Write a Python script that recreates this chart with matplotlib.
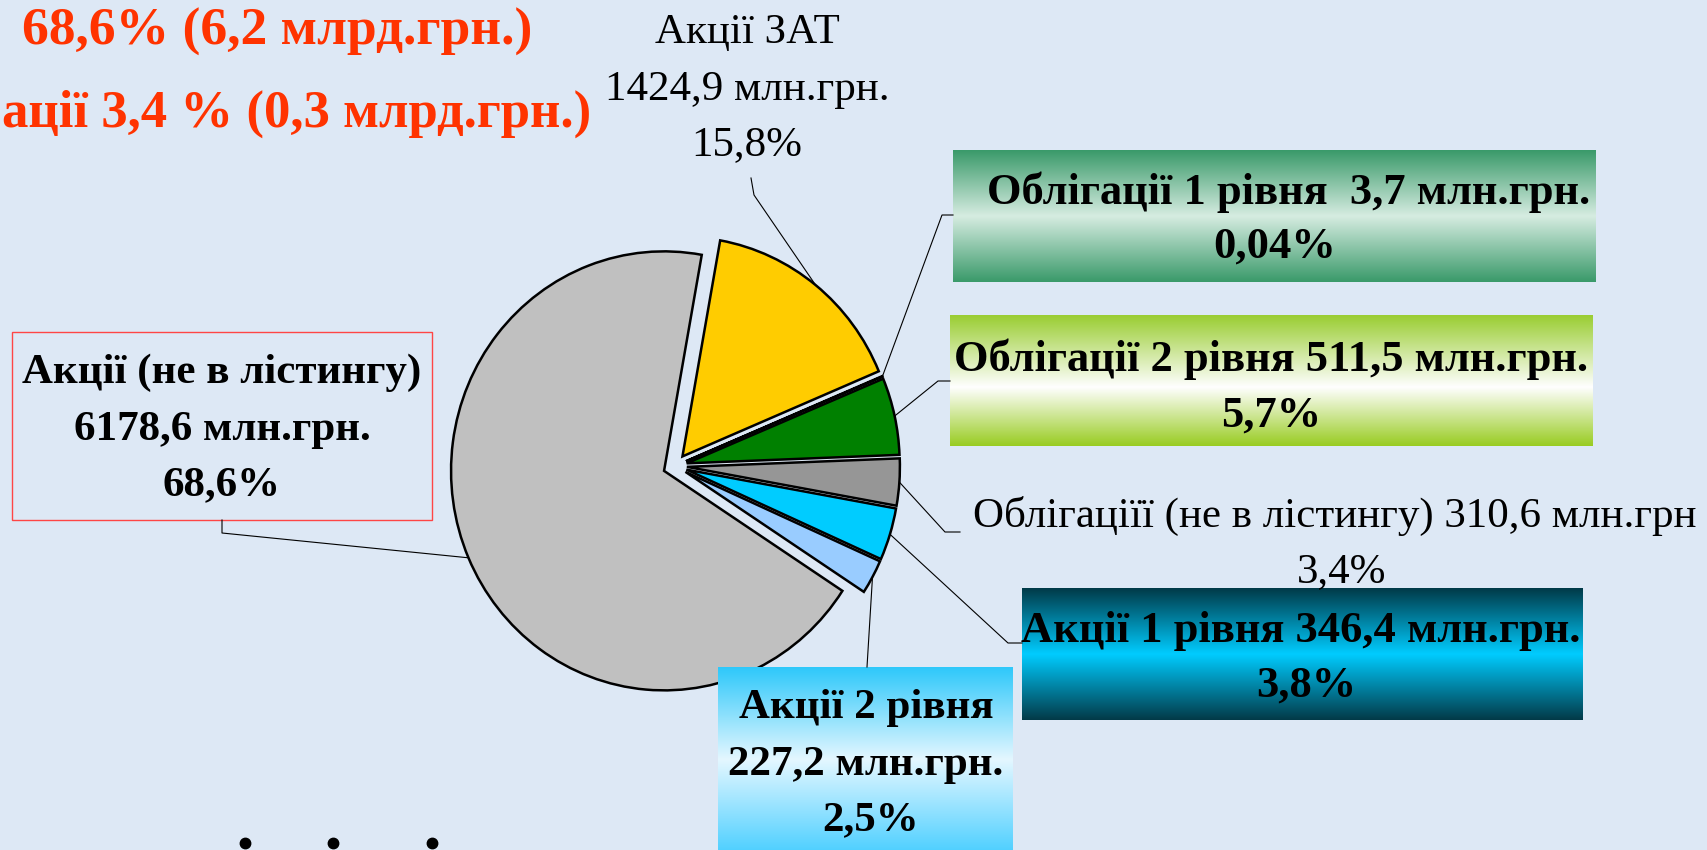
import numpy as np
import matplotlib
matplotlib.use("Agg")
import matplotlib.pyplot as plt
from matplotlib.patches import Rectangle

W, H = 1707, 850

# pie data, clockwise from the top
names = ["Акції ЗАТ", "Облігації 1 рівня", "Облігації 2 рівня",
         "Облігаціїї (не в лістингу)", "Акції 1 рівня", "Акції 2 рівня",
         "Акції (не в лістингу)"]
values = [1424.9, 3.7, 511.5, 310.6, 346.4, 227.2, 6178.6]
shares = ["15,8%", "0,04%", "5,7%", "3,4%", "3,8%", "2,5%", "68,6%"]
colors = ["#ffcc00", "#339966", "#008000", "#969696", "#00ccff", "#99ccff", "#c0c0c0"]

headline = ["68,6% (6,2 млрд.грн.)", "ації 3,4 % (0,3 млрд.грн.)"]

plt.rcParams["font.family"] = ["Liberation Serif", "DejaVu Serif"]


def amount(v):
    return f"{v:.1f}".replace(".", ",") + " млн.грн."


label_lines = [
    [names[0], amount(values[0]), shares[0]],
    [f"{names[1]}  {amount(values[1])}", shares[1]],
    [f"{names[2]} {amount(values[2])}", shares[2]],
    [f"{names[3]} {amount(values[3]).rstrip('.')}", shares[3]],
    [f"{names[4]} {amount(values[4])}", shares[4]],
    [names[5], amount(values[5]), shares[5]],
    [names[6], amount(values[6]), shares[6]],
]

# label layout: (x, baseline) per line, font size, weight
label_pos = [
    [(747, 43), (747, 100), (747, 155)],
    [(1289, 204), (1275, 258)],
    [(1271, 371), (1271, 427)],
    [(973, 527), (1342, 582)],
    [(1301, 642), (1306, 697)],
    [(866, 718), (866, 775), (871, 830)],
    [(222, 383), (222, 440), (222, 495)],
]
label_ha = [None, None, None, ["left", "center"], None, None, None]
label_size = [31, 32, 32, 31, 32, 31, 31]
label_weight = ["normal", "bold", "bold", "normal", "bold", "bold", "bold"]

# gradient boxes: x0, y0, x1, y1, top, middle, bottom, middle position
boxes = {
    1: (953, 150, 1596, 282, "#3a9a6a", "#d6ece1", "#3a9a6a", 0.5),
    2: (950, 316, 1593, 446, "#9acd32", "#ffffff", "#99cc22", 0.55),
    4: (1022, 588, 1583, 720, "#003a48", "#00ccff", "#033a48", 0.5),
    5: (718, 667, 1013, 852, "#2ec8fa", "#e4f7ff", "#4fd0ff", 0.5),
}

# leader lines, from the label towards the slice
leaders = [
    [(751, 178), (754, 195)],
    [(953, 215), (942, 215)],
    [(950, 381), (938, 381)],
    [(960, 532), (945, 532)],
    [(1022, 643), (1008, 643)],
    [(867, 667)],
    [(222, 520), (222, 533)],
]

bullet_x = [245, 333, 432]

fig = plt.figure(figsize=(W / 100, H / 100), dpi=100, facecolor="#dde8f5")

# pie in its own axes (slightly taller than wide, as in the slide)
cx, cy, rx, ry = 675, 466, 213, 219.5
pax = fig.add_axes([(cx - 1.5 * rx) / W, (H - cy - 1.5 * ry) / H, 3 * rx / W, 3 * ry / H])
wedges, _ = pax.pie(values, colors=colors, startangle=79.8, counterclock=False,
                    explode=[0.056] * len(values),
                    wedgeprops=dict(edgecolor="black", linewidth=1.8))
pax.set_xlim(-1.5, 1.5)
pax.set_ylim(-1.5, 1.5)
pax.set_aspect("auto")
pax.axis("off")
pax.set_zorder(1)

ax = fig.add_axes([0, 0, 1, 1])
ax.set_zorder(2)
ax.patch.set_visible(False)


def gradient_box(x0, y0, x1, y1, top, mid, bottom, mpos):
    t = np.linspace(0, 1, 200)
    c = [np.array(matplotlib.colors.to_rgb(k)) for k in (top, mid, bottom)]
    arr = np.empty((len(t), 1, 3))
    for i, v in enumerate(t):
        if v < mpos:
            f = v / mpos
            arr[i, 0] = c[0] * (1 - f) + c[1] * f
        else:
            f = (v - mpos) / (1 - mpos)
            arr[i, 0] = c[1] * (1 - f) + c[2] * f
    ax.imshow(arr, extent=(x0, x1, y1, y0), aspect="auto", origin="upper",
              interpolation="bilinear", zorder=1)


for i, b in boxes.items():
    gradient_box(*b)

ax.add_patch(Rectangle((12, 332), 420, 188, fill=False, edgecolor="#ff4545", lw=1, zorder=1))

ax.set_xlim(0, W)
ax.set_ylim(H, 0)
ax.axis("off")


def arc_point(w):
    t = np.deg2rad((w.theta1 + w.theta2) / 2)
    x0, y0 = w.center
    p = pax.transData.transform((x0 + w.r * np.cos(t), y0 + w.r * np.sin(t)))
    return ax.transData.inverted().transform(p)


for w, pts in zip(wedges, leaders):
    path = list(pts) + [tuple(arc_point(w))]
    xs, ys = zip(*path)
    ax.plot(xs, ys, color="black", lw=0.8, zorder=2)

for i, lines in enumerate(label_lines):
    for j, (txt, (x, y)) in enumerate(zip(lines, label_pos[i])):
        ha = label_ha[i][j] if label_ha[i] else "center"
        ax.text(x, y, txt, ha=ha, va="baseline", fontsize=label_size[i],
                fontweight=label_weight[i], color="black", zorder=3)

# headline in red, top left
ax.text(22, 45, headline[0], ha="left", va="baseline", fontsize=38.5,
        fontweight="bold", color="#ff3300", zorder=3)
ax.text(2, 127, headline[1], ha="left", va="baseline", fontsize=38,
        fontweight="bold", color="#ff3300", zorder=3)

# slide bullets at the bottom edge
ax.plot(bullet_x, [843] * len(bullet_x), "o", ms=7.5, color="black", zorder=3)

fig.savefig("out.png", dpi=100)
